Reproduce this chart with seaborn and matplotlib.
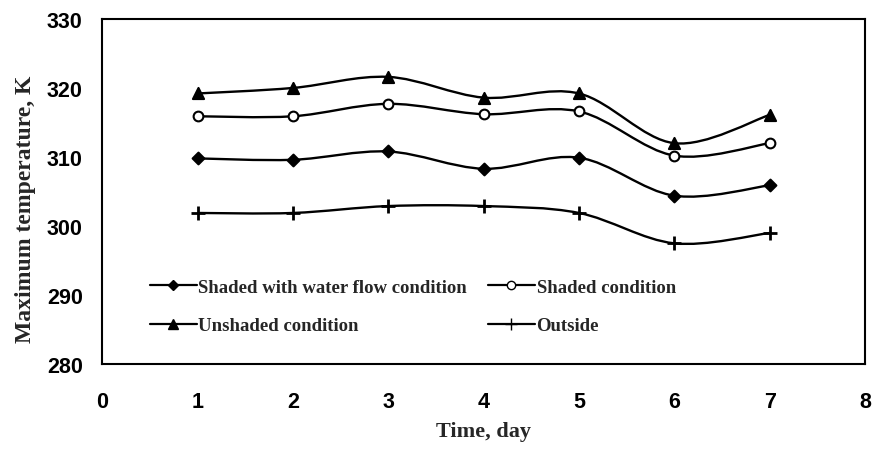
import numpy as np
import pandas as pd
import matplotlib
matplotlib.use("Agg")
import matplotlib.pyplot as plt
from matplotlib.path import Path
from matplotlib.patches import PathPatch
from matplotlib.lines import Line2D
import seaborn as sns

# data
days = [1, 2, 3, 4, 5, 6, 7]
water_flow = [309.8, 309.6, 310.8, 308.3, 309.9, 304.4, 305.9]
shaded = [315.9, 315.9, 317.7, 316.2, 316.6, 310.2, 312.0]
unshaded = [319.2, 320.0, 321.6, 318.6, 319.2, 312.0, 316.1]
outside = [301.9, 301.9, 302.9, 302.9, 301.9, 297.5, 299.0]

series_names = ["Shaded with water flow condition", "Shaded condition",
                "Unshaded condition", "Outside"]
x_ticks = [0, 1, 2, 3, 4, 5, 6, 7, 8]
y_ticks = [280, 290, 300, 310, 320, 330]

df = pd.DataFrame({
    "day": days * 4,
    "temp": water_flow + shaded + unshaded + outside,
    "series": np.repeat(series_names, len(days)),
})

markers = {
    "Shaded with water flow condition": "D",
    "Shaded condition": "o",
    "Unshaded condition": "^",
    "Outside": "+",
}
msize = {"D": 6, "o": 7, "^": 8, "+": 10}


def smooth_path(x, y, t=1 / 6):
    # Excel style smoothed line as cubic Bezier segments through the points
    x = np.asarray(x, float)
    y = np.asarray(y, float)
    verts = [(x[0], y[0])]
    codes = [Path.MOVETO]
    n = len(x)
    for i in range(n - 1):
        i0 = max(i - 1, 0)
        i3 = min(i + 2, n - 1)
        c1 = (x[i] + (x[i + 1] - x[i0]) * t, y[i] + (y[i + 1] - y[i0]) * t)
        c2 = (x[i + 1] - (x[i3] - x[i]) * t, y[i + 1] - (y[i3] - y[i]) * t)
        verts += [c1, c2, (x[i + 1], y[i + 1])]
        codes += [Path.CURVE4] * 3
    return Path(verts, codes)


sns.set_style("white")
fig, ax = plt.subplots(figsize=(8.73, 4.52), dpi=100)
fig.subplots_adjust(left=0.117, right=0.991, top=0.956, bottom=0.192)

for name in series_names:
    sub = df[df["series"] == name]
    ax.add_patch(PathPatch(smooth_path(sub["day"], sub["temp"]),
                           fill=False, edgecolor="black", lw=1.7, zorder=2))

for name in series_names:
    sub = df[df["series"] == name]
    m = markers[name]
    sns.scatterplot(data=sub, x="day", y="temp", marker=m, ax=ax,
                    s=msize[m] ** 2,
                    color="white" if m == "o" else "black",
                    edgecolor="black", linewidth=1.5 if m != "+" else 2,
                    zorder=3, legend=False)

ax.set_xlim(0, 8)
ax.set_ylim(280, 330)
ax.set_xticks(x_ticks)
ax.set_yticks(y_ticks)
ax.tick_params(direction="in", length=4, width=1, colors="black")
ax.tick_params(axis="y", pad=14)
ax.tick_params(axis="x", pad=19)
for lab in ax.get_xticklabels() + ax.get_yticklabels():
    lab.set_family("Liberation Sans")
    lab.set_fontweight("bold")
    lab.set_fontsize(15.5)
for s in ax.spines.values():
    s.set_color("black")
    s.set_linewidth(1.5)

ax.set_xlabel("Time, day", family="Liberation Serif", fontweight="bold",
              fontsize=16)
ax.xaxis.set_label_coords(0.5, -0.165)
ax.set_ylabel("Maximum temperature, K", family="Liberation Serif",
              fontweight="bold", fontsize=17)
ax.yaxis.set_label_coords(-0.087, 0.452)

handles = []
for name in series_names:
    m = markers[name]
    handles.append(Line2D([], [], color="black", lw=1.6, marker=m,
                          markersize=msize[m] - 1,
                          markerfacecolor="white" if m == "o" else "black",
                          markeredgecolor="black"))
# matplotlib fills legend columns first
order = [0, 2, 1, 3]
ax.legend([handles[i] for i in order], [series_names[i] for i in order],
          ncol=2, loc="upper left", bbox_to_anchor=(0.05, 0.275),
          frameon=False, borderpad=0, handlelength=2.5, handletextpad=0.1,
          columnspacing=1.1, labelspacing=1.15,
          prop={"family": "Liberation Serif", "weight": "bold", "size": 13.5})

plt.savefig("out.png", dpi=100)
